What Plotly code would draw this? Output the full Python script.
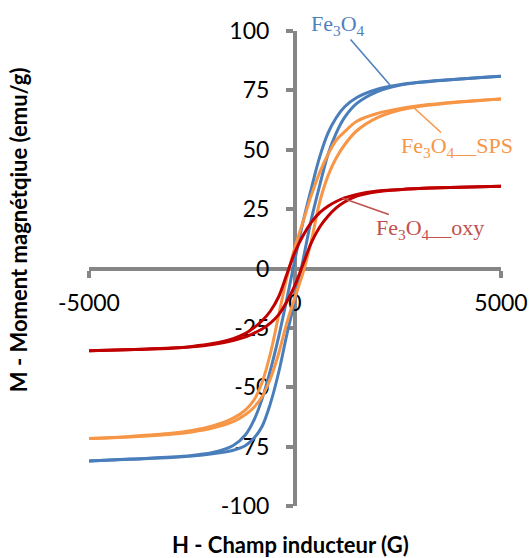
import plotly.graph_objects as go

# Applied field H (G)
H = [-5000, -4000, -3000, -2500, -2000, -1500, -1200, -1000, -800, -600, -400, -200,
     0, 200, 400, 600, 800, 1000, 1200, 1500, 2000, 2500, 3000, 4000, 5000]

# Fe3O4 (blue) - descending and ascending branches (emu/g)
fe_desc = [-81, -80.2, -79.4, -78.7, -77.5, -74.5, -70, -64, -55, -43, -29, -13,
           4, 20, 34, 47, 57, 63.5, 68, 72, 75.5, 77.3, 78.4, 79.8, 81]
fe_asc = [-81, -80.3, -79.6, -79, -78, -76.5, -74.5, -71.5, -66.5, -57, -44, -28,
          -13, 4, 21, 35, 48, 57, 63.5, 69.5, 74.5, 77, 78.3, 79.8, 81]

# Fe3O4_SPS (orange)
sps_desc = [-71.6, -70.7, -69.4, -68.2, -66.3, -63, -59.5, -55.5, -48, -36, -20, -4,
            9, 20, 31, 40.5, 48, 54, 57.5, 62, 65.3, 67.2, 68.5, 70.2, 71.4]
sps_asc = [-71.6, -70.9, -69.8, -68.8, -67.2, -64.5, -61.5, -58.5, -54, -46.5, -36, -23,
           -12, -1.5, 12, 28, 39, 46.5, 52, 58, 63.5, 66.5, 68.2, 70.1, 71.4]

# Fe3O4_oxy (red)
oxy_desc = [-34.6, -34.1, -33.5, -32.8, -31.6, -29.5, -27.3, -25, -22, -18, -12, -2.5,
            7, 14, 19.5, 23.5, 26.2, 28.2, 29.7, 31.2, 32.6, 33.2, 33.7, 34.2, 34.6]
oxy_asc = [-34.6, -34.2, -33.6, -33, -32, -30.3, -28.8, -27.3, -25.5, -23, -19.5, -14,
           -7, 2, 11, 17.5, 22, 25.5, 28, 30.5, 32.3, 33.2, 33.7, 34.2, 34.6]

series_names = ["Fe3O4", "Fe3O4_SPS", "Fe3O4_oxy"]
colors = ["#4A7EBB", "#F79646", "#C00000"]
label_colors = ["#4F81BD", "#F79646", "#C0504D"]

y_ticks = [-100, -75, -50, -25, 0, 25, 50, 75, 100]
x_ticks = [-5000, 0, 5000]

fig = go.Figure()
for name, desc, asc, col in [
    (series_names[0], fe_desc, fe_asc, colors[0]),
    (series_names[1], sps_desc, sps_asc, colors[1]),
    (series_names[2], oxy_desc, oxy_asc, colors[2]),
]:
    xs = H[::-1] + [None] + H
    ys = desc[::-1] + [None] + asc
    fig.add_trace(go.Scatter(x=xs, y=ys, mode="lines", name=name,
                             line=dict(color=col, width=3, shape="spline", smoothing=1.0),
                             connectgaps=False, showlegend=False, hoverinfo="skip"))

axis_col = "#868686"
tick_font = dict(family="Lato, 'Open Sans', sans-serif", size=23, color="#000000")

fig.update_layout(
    width=532, height=558,
    margin=dict(l=89, r=31, t=31, b=52, autoexpand=False),
    paper_bgcolor="white", plot_bgcolor="white",
    showlegend=False,
    xaxis=dict(range=[-5000, 5000], tickvals=x_ticks, ticktext=[str(v) for v in x_ticks],
               showgrid=False, zeroline=False, showline=True, linecolor=axis_col, linewidth=4,
               ticks="outside", ticklen=7, tickwidth=4, tickcolor=axis_col,
               anchor="free", position=0.5, layer="below traces", automargin=False,
               tickfont=tick_font, ticklabelstandoff=6),
    yaxis=dict(range=[-100, 100], tickvals=y_ticks, ticktext=[str(v) for v in y_ticks],
               showgrid=False, zeroline=False, showline=True, linecolor=axis_col, linewidth=4,
               ticks="outside", ticklen=7, tickwidth=4, tickcolor=axis_col,
               anchor="free", position=0.5, layer="below traces", automargin=False,
               tickfont=tick_font, ticklabelstandoff=12),
)

serif = "'Liberation Serif', 'DejaVu Serif', serif"
# (text, arrow-point H, arrow-point M, text offset px x, text offset px y)
labels = [
    ("Fe<sub>3</sub>O<sub>4</sub>", 2306, 77.3, -52, -60),
    ("Fe<sub>3</sub>O<sub>4</sub>__SPS", 2864, 68, 44, 40),
    ("Fe<sub>3</sub>O<sub>4</sub>__oxy", 1141, 29.7, 88, 31),
]
for (txt, px, py, ax, ay), lc in zip(labels, label_colors):
    fig.add_annotation(x=px, y=py, xref="x", yref="y", text=txt, showarrow=True,
                       arrowhead=0, arrowwidth=1.6, arrowcolor=lc, ax=ax, ay=ay,
                       borderpad=0, font=dict(family=serif, size=22, color=lc))

title_font = dict(family="Lato, 'Open Sans', sans-serif", size=22, color="#000000")
fig.add_annotation(text="<b>H - Champ inducteur (G)</b>", xref="paper", yref="paper",
                   x=0.49, y=-0.082, showarrow=False, font=title_font,
                   xanchor="center", yanchor="middle")
fig.add_annotation(text="<b>M - Moment magnétqiue (emu/g)</b>", xref="paper", yref="paper",
                   x=-0.172, y=0.581, showarrow=False, font=title_font, textangle=-90,
                   xanchor="center", yanchor="middle")

fig.write_html("out.html", config={"displayModeBar": False},
               post_script="document.body.style.margin='0';document.body.style.overflow='hidden';")
